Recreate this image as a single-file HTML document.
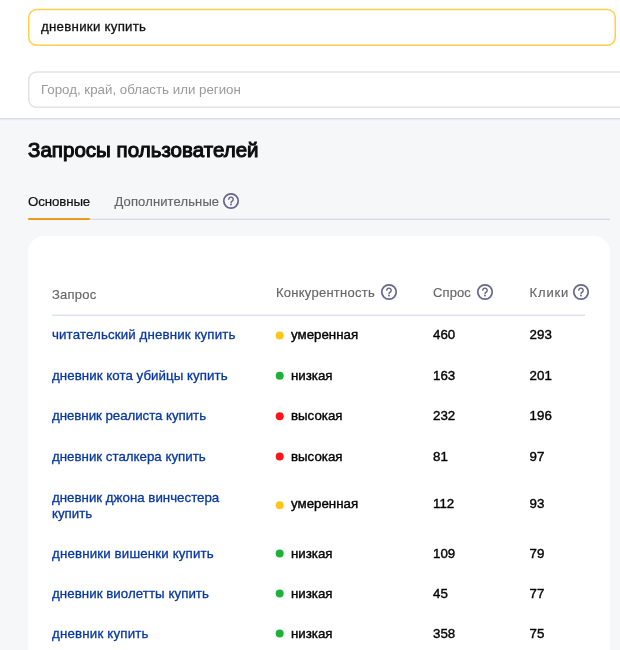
<!DOCTYPE html>
<html lang="ru">
<head>
<meta charset="utf-8">
<title>Запросы пользователей</title>
<style>
*{box-sizing:border-box;margin:0;padding:0}
html,body{width:620px;height:650px;overflow:hidden;background:#f5f7f9}
body{position:relative;font-family:"Liberation Sans",sans-serif;color:#000;-webkit-font-smoothing:antialiased}
.abs{position:absolute;white-space:nowrap}
.top{position:absolute;left:0;top:0;width:620px;height:119px;background:#fff;border-bottom:1px solid #d9dfe9;box-shadow:0 1px 1px rgba(217,223,233,.5)}
.t1{left:41px;top:19px;font-size:13.3px;line-height:16px;color:#111;letter-spacing:.25px;-webkit-text-stroke:.3px #111}
.t2{left:41px;top:82px;font-size:13.3px;line-height:16px;color:#9a9a9a;letter-spacing:0}
.h1{left:28px;top:138px;font-size:20.5px;line-height:24px;font-weight:400;color:#111;letter-spacing:.03px;-webkit-text-stroke:1.05px #0d0d0d;color:#0d0d0d}
.tab{font-size:13.3px;line-height:16px;top:193.5px}
.tabline{position:absolute;left:28px;top:219px;width:582px;height:1px;background:#d9dbdf;box-shadow:0 -1px 0 rgba(217,219,223,.35)}
.tabact{position:absolute;left:28px;top:218px;width:62px;height:2px;background:#ee9a1b;border-radius:1px}
.card{position:absolute;left:28px;top:236px;width:582px;height:440px;background:#fff;border-radius:16px}
.th{font-size:13px;line-height:16px;color:#666;-webkit-text-stroke:.15px #666}
.hline{position:absolute;left:52px;top:315px;width:533px;height:1px;background:#dde1ee;box-shadow:0 -1px 0 rgba(221,225,238,.45)}
.q{font-size:13.3px;line-height:16px;color:#0838a0;-webkit-text-stroke:.3px #0838a0;left:52px}
.c{font-size:13.3px;line-height:16px;color:#050505;left:291px;-webkit-text-stroke:.4px #050505}
.n{font-size:13.3px;line-height:16px;color:#050505;-webkit-text-stroke:.4px #050505}
svg.qi{position:absolute;width:18px;height:18px;overflow:visible}
</style>
</head>
<body>
<div class="top"></div>
<svg class="abs" style="left:0;top:0" width="620" height="118" viewBox="0 0 620 118"><rect x="28.75" y="9.5" width="586.5" height="35.75" rx="8" fill="#fff" stroke="#ffd04a" stroke-width="1.5"/><rect x="28.75" y="72" width="640" height="35.25" rx="8" fill="#fff" stroke="#e2e3e6" stroke-width="1.5"/></svg>
<div class="abs t1">дневники купить</div>
<div class="abs t2">Город, край, область или регион</div>

<div class="abs h1">Запросы пользователей</div>
<div class="abs tab" style="left:28px;color:#111;letter-spacing:-.12px;-webkit-text-stroke:.2px #111">Основные</div>
<div class="abs tab" style="left:114.5px;font-size:13px;color:#666;letter-spacing:.13px;-webkit-text-stroke:.15px #666">Дополнительные</div>
<svg class="qi" style="left:222px;top:191.5px" viewBox="0 0 18 18"><circle cx="9" cy="9" r="7.2" fill="none" stroke="#65658c" stroke-width="1.7"/><path d="M6.8 7.3a2.2 2.2 0 1 1 3.4 1.9c-.8.5-1.2.9-1.2 1.7" fill="none" stroke="#65658c" stroke-width="1.4" stroke-linecap="round"/><circle cx="9" cy="12.6" r=".95" fill="#65658c"/></svg>
<div class="tabline"></div>
<div class="tabact"></div>

<div class="card"></div>
<div class="abs th" style="left:52px;top:287px;letter-spacing:.25px">Запрос</div>
<div class="abs th" style="left:276px;top:284.5px;letter-spacing:.25px">Конкурентность</div>
<svg class="qi" style="left:380.25px;top:283.4px" viewBox="0 0 18 18"><circle cx="9" cy="9" r="7.2" fill="none" stroke="#65658c" stroke-width="1.7"/><path d="M6.8 7.3a2.2 2.2 0 1 1 3.4 1.9c-.8.5-1.2.9-1.2 1.7" fill="none" stroke="#65658c" stroke-width="1.4" stroke-linecap="round"/><circle cx="9" cy="12.6" r=".95" fill="#65658c"/></svg>
<div class="abs th" style="left:433px;top:284.5px;letter-spacing:.1px">Спрос</div>
<svg class="qi" style="left:476.25px;top:283.4px" viewBox="0 0 18 18"><circle cx="9" cy="9" r="7.2" fill="none" stroke="#65658c" stroke-width="1.7"/><path d="M6.8 7.3a2.2 2.2 0 1 1 3.4 1.9c-.8.5-1.2.9-1.2 1.7" fill="none" stroke="#65658c" stroke-width="1.4" stroke-linecap="round"/><circle cx="9" cy="12.6" r=".95" fill="#65658c"/></svg>
<div class="abs th" style="left:529.6px;top:284.5px;letter-spacing:.85px">Клики</div>
<svg class="qi" style="left:572.25px;top:283.4px" viewBox="0 0 18 18"><circle cx="9" cy="9" r="7.2" fill="none" stroke="#65658c" stroke-width="1.7"/><path d="M6.8 7.3a2.2 2.2 0 1 1 3.4 1.9c-.8.5-1.2.9-1.2 1.7" fill="none" stroke="#65658c" stroke-width="1.4" stroke-linecap="round"/><circle cx="9" cy="12.6" r=".95" fill="#65658c"/></svg>
<div class="hline"></div>
<svg class="abs" style="left:270px;top:320px" width="20" height="330" viewBox="270 320 20 330"><circle cx="279.7" cy="335.5" r="4" fill="#ffc61a"/><circle cx="279.7" cy="375.8" r="4" fill="#1eb13a"/><circle cx="279.7" cy="416.2" r="4" fill="#fb1419"/><circle cx="279.7" cy="456.4" r="4" fill="#fb1419"/><circle cx="279.7" cy="505.2" r="4" fill="#ffc61a"/><circle cx="279.7" cy="553.4" r="4" fill="#1eb13a"/><circle cx="279.7" cy="593.4" r="4" fill="#1eb13a"/><circle cx="279.7" cy="633.6" r="4" fill="#1eb13a"/></svg>

<div class="abs q" style="top:327px;letter-spacing:.125px">читательский дневник купить</div>
<div class="abs c" style="top:327px">умеренная</div>
<div class="abs n" style="left:433px;top:327px">460</div><div class="abs n" style="left:529.6px;top:327px">293</div>

<div class="abs q" style="top:367.5px;letter-spacing:.05px">дневник кота убийцы купить</div>
<div class="abs c" style="top:367.5px">низкая</div>
<div class="abs n" style="left:433px;top:367.5px">163</div><div class="abs n" style="left:529.6px;top:367.5px">201</div>

<div class="abs q" style="top:408px;letter-spacing:-.05px">дневник реалиста купить</div>
<div class="abs c" style="top:408px">высокая</div>
<div class="abs n" style="left:433px;top:408px">232</div><div class="abs n" style="left:529.6px;top:408px">196</div>

<div class="abs q" style="top:449px;letter-spacing:.0px">дневник сталкера купить</div>
<div class="abs c" style="top:449px">высокая</div>
<div class="abs n" style="left:433px;top:449px">81</div><div class="abs n" style="left:529.6px;top:449px">97</div>

<div class="abs q" style="top:489.5px;letter-spacing:.0px">дневник джона винчестера<br>купить</div>
<div class="abs c" style="top:496.4px">умеренная</div>
<div class="abs n" style="left:433px;top:496.4px">112</div><div class="abs n" style="left:529.6px;top:496.4px">93</div>

<div class="abs q" style="top:545.7px;letter-spacing:.15px">дневники вишенки купить</div>
<div class="abs c" style="top:545.7px">низкая</div>
<div class="abs n" style="left:433px;top:545.7px">109</div><div class="abs n" style="left:529.6px;top:545.7px">79</div>

<div class="abs q" style="top:585.5px;letter-spacing:.05px">дневник виолетты купить</div>
<div class="abs c" style="top:585.5px">низкая</div>
<div class="abs n" style="left:433px;top:585.5px">45</div><div class="abs n" style="left:529.6px;top:585.5px">77</div>

<div class="abs q" style="top:626px;letter-spacing:.18px">дневник купить</div>
<div class="abs c" style="top:626px">низкая</div>
<div class="abs n" style="left:433px;top:626px">358</div><div class="abs n" style="left:529.6px;top:626px">75</div>
</body>
</html>
